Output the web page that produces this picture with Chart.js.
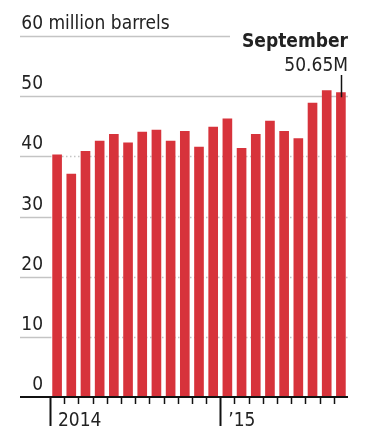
<!DOCTYPE html>
<html>
<head>
<meta charset="utf-8">
<title>Crude production</title>
<script src="https://cdn.jsdelivr.net/npm/chart.js@4.4.0/dist/chart.umd.min.js"></script>
<style>
    body { margin: 0; background: #fff; }
    .wrap { width: 367px; height: 441px; position: relative; }
</style>
</head>
<body>
<div class="wrap"><canvas id="barrels"></canvas></div>
<script>
    // monthly output, Jan 2014 .. Sep 2015 (million barrels)
    const months = ['Jan','Feb','Mar','Apr','May','Jun','Jul','Aug','Sep','Oct','Nov','Dec',
                    'Jan','Feb','Mar','Apr','May','Jun','Jul','Aug','Sep'];
    const barrels = [40.3, 37.1, 40.9, 42.6, 43.7, 42.3, 44.1, 44.4, 42.6, 44.2, 41.6, 44.9,
                     46.3, 41.4, 43.7, 45.9, 44.2, 43.0, 48.9, 51.0, 50.65];
    const yTicks = [0, 10, 20, 30, 40, 50, 60];
    const yearLabels = [{ index: 0, text: '2014' }, { index: 12, text: '\u201915' }];
    const calloutTitle = 'September';
    const calloutValue = '50.65M';

    const FONT = '"Liberation Sans Narrow", "DejaVu Sans Condensed", "Liberation Sans", sans-serif';

    const drawAxes = {
        id: 'drawAxes',
        beforeDatasetsDraw(chart) {
            const c = chart.ctx, y = chart.scales.y, area = chart.chartArea;
            c.save();
            c.strokeStyle = '#c4c4c4';
            c.lineWidth = 1.5;
            yTicks.forEach(v => {
                if (v === 0) return;
                const py = Math.round(y.getPixelForValue(v)) + 0.5;
                const right = v === 60 ? 230 : area.right;
                // solid on the label side, dotted behind the bars
                c.setLineDash([]);
                c.beginPath(); c.moveTo(20, py); c.lineTo(v === 60 ? right : area.left, py); c.stroke();
                if (v !== 60) {
                    c.setLineDash(v === 50 ? [] : [1.5, 2.5]);
                    c.beginPath(); c.moveTo(area.left, py); c.lineTo(right, py); c.stroke();
                }
            });
            c.restore();
        },
        afterDatasetsDraw(chart) {
            const c = chart.ctx, x = chart.scales.x, y = chart.scales.y, area = chart.chartArea;
            const base = y.getPixelForValue(0);
            c.save();
            // tick labels
            c.fillStyle = '#222';
            c.font = '19px ' + FONT;
            c.textBaseline = 'alphabetic';
            yTicks.forEach(v => {
                const py = y.getPixelForValue(v) - 7;
                c.textAlign = 'right';
                c.fillText(String(v), 43, py);
                if (v === 60) {
                    c.textAlign = 'left';
                    c.fillText(' million barrels', 43, py);
                }
            });
            // baseline
            c.strokeStyle = '#111';
            c.lineWidth = 2;
            c.beginPath(); c.moveTo(20, base); c.lineTo(area.right, base); c.stroke();
            // month ticks at category boundaries
            const half = (x.getPixelForValue(1) - x.getPixelForValue(0)) / 2;
            for (let i = 0; i < months.length; i++) {
                const px = Math.round(x.getPixelForValue(i) - half) + 0.5;
                const isYear = yearLabels.some(l => l.index === i);
                c.lineWidth = isYear ? 2 : 1.5;
                c.beginPath(); c.moveTo(px, base); c.lineTo(px, base + (isYear ? 29 : 7)); c.stroke();
            }
            c.textAlign = 'left';
            yearLabels.forEach(l => {
                const px = x.getPixelForValue(l.index) - half;
                c.fillText(l.text, px + 8, base + 29);
            });
            // callout
            const last = barrels.length - 1;
            const lx = Math.round(x.getPixelForValue(last)) + 0.5;
            c.textAlign = 'right';
            c.font = 'bold 19px ' + FONT;
            c.fillText(calloutTitle, area.right, 47);
            c.font = '19px ' + FONT;
            c.fillText(calloutValue, area.right, 71);
            c.lineWidth = 1.5;
            c.beginPath(); c.moveTo(lx, 75); c.lineTo(lx, y.getPixelForValue(barrels[last]) + 5); c.stroke();
            c.restore();
        }
    };

    new Chart(document.getElementById('barrels'), {
        type: 'bar',
        data: {
            labels: months,
            datasets: [{
                data: barrels,
                backgroundColor: '#d7333b',
                borderWidth: 0,
                barPercentage: 0.68,
                categoryPercentage: 1
            }]
        },
        options: {
            responsive: true,
            maintainAspectRatio: false,
            animation: false,
            layout: { padding: { left: 50, right: 19, top: 36, bottom: 44 } },
            plugins: { legend: { display: false }, tooltip: { enabled: false } },
            scales: {
                x: { display: false },
                y: { display: false, min: 0, max: 60 }
            }
        },
        plugins: [drawAxes]
    });
</script>
</body>
</html>
